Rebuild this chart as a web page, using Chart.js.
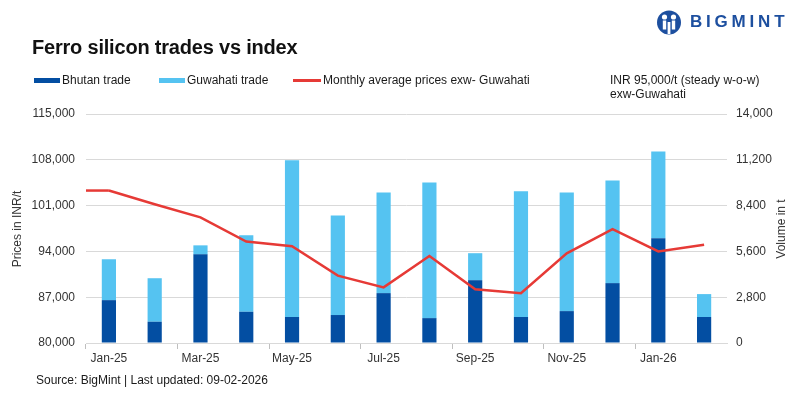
<!DOCTYPE html>
<html>
<head>
<meta charset="utf-8">
<script src="https://cdn.jsdelivr.net/npm/chart.js@4.4.1/dist/chart.umd.min.js"></script>
<style>
  html, body { margin: 0; padding: 0; background: #fff; }
  body { width: 800px; height: 398px; position: relative; overflow: hidden;
         font-family: "Liberation Sans", Arial, sans-serif; color: #1a1a1a; }
  #chartBox { position: absolute; left: 0; top: 0; width: 800px; height: 398px; }
  .title { position: absolute; left: 32px; top: 36px; font-size: 20px; font-weight: bold; color: #111; letter-spacing: -0.2px; }
  .txt { position: absolute; font-size: 12px; line-height: 14px; color: #1a1a1a; white-space: nowrap; }
  .swatch { position: absolute; }
  .axisTitle { position: absolute; font-size: 12px; color: #333; white-space: nowrap; transform: rotate(-90deg); transform-origin: center center; }
  .logo { position: absolute; left: 656px; top: 10px; }
  .logoText { position: absolute; left: 690px; top: 12px; font-size: 17px; font-weight: bold; letter-spacing: 3.8px; color: #1d4f9f; }
</style>
</head>
<body>
<div id="chartBox"><canvas id="trades"></canvas></div>

<div class="title">Ferro silicon trades vs index</div>

<svg class="logo" width="26" height="25" viewBox="0 0 26 25">
  <circle cx="13" cy="12.5" r="12" fill="#1d4f9f"/>
  <circle cx="8.5" cy="7" r="2.6" fill="#fff"/>
  <circle cx="17.5" cy="7" r="2.6" fill="#fff"/>
  <rect x="6.8" y="10.5" width="3.4" height="9" fill="#fff"/>
  <rect x="15.8" y="10.5" width="3.4" height="9" fill="#fff"/>
  <rect x="11.6" y="12" width="2.8" height="12" fill="#fff"/>
</svg>
<div class="logoText">BIGMINT</div>

<div class="swatch" style="left:34px;top:78px;width:26px;height:5px;background:#034ea2"></div>
<div class="txt" style="left:62px;top:73px">Bhutan trade</div>
<div class="swatch" style="left:159px;top:78px;width:26px;height:5px;background:#55c3f1"></div>
<div class="txt" style="left:187px;top:73px">Guwahati trade</div>
<div class="swatch" style="left:293px;top:79px;width:28px;height:2.5px;background:#e63a36"></div>
<div class="txt" style="left:323px;top:73px">Monthly average prices exw- Guwahati</div>
<div class="txt" style="left:610px;top:73px">INR 95,000/t (steady w-o-w)<br>exw-Guwahati</div>

<div class="axisTitle" style="left:-27px;top:222px;width:88px;text-align:center">Prices in INR/t</div>
<div class="axisTitle" style="left:745px;top:222px;width:72px;text-align:center">Volume in t</div>

<div class="txt" style="left:36px;top:373px">Source: BigMint | Last updated: 09-02-2026</div>

<script>
var months = ['Jan-25', 'Feb-25', 'Mar-25', 'Apr-25', 'May-25', 'Jun-25', 'Jul-25',
              'Aug-25', 'Sep-25', 'Oct-25', 'Nov-25', 'Dec-25', 'Jan-26', 'Feb-26'];

// volumes in t (right axis)
var bhutanTrade   = [2620, 1300, 5420, 1910, 1590, 1710, 3050, 1520, 3840, 1590, 1950, 3660, 6400, 1590];
var guwahatiTrade = [2500, 2660,  550, 4670, 9580, 6090, 6150, 8290, 1650, 7690, 7250, 6270, 5300, 1400];

// INR/t (left axis)
var avgPrice = [103300, 101200, 99200, 95500, 94800, 90300, 88500,
                93300, 88200, 87600, 93700, 97400, 94000, 95000];

var priceMin = 80000, priceMax = 115000, priceStep = 7000;
var volMin = 0, volMax = 14000, volStep = 2800;

var colors = {
  bhutan: '#034ea2',
  guwahati: '#55c3f1',
  price: '#e63a36',
  grid: '#d9d9d9',
  tick: '#333333'
};

function fmt(v) {
  return v.toLocaleString('en-US');
}

// excel draws the price line from the left edge of the plot
var leadIn = {
  id: 'leadIn',
  afterDatasetsDraw: function(chart) {
    var meta = chart.getDatasetMeta(0);
    if (!meta.data.length) return;
    var p = meta.data[0];
    var ctx = chart.ctx;
    ctx.save();
    ctx.strokeStyle = colors.price;
    ctx.lineWidth = 2.5;
    ctx.beginPath();
    ctx.moveTo(chart.chartArea.left, p.y);
    ctx.lineTo(p.x, p.y);
    ctx.stroke();
    ctx.restore();
  }
};

var config = {
  type: 'bar',
  data: {
    labels: months,
    datasets: [{
      type: 'line',
      label: 'Monthly average prices exw- Guwahati',
      data: avgPrice,
      yAxisID: 'yPrice',
      borderColor: colors.price,
      borderWidth: 2.5,
      pointRadius: 0,
      tension: 0,
      fill: false,
      order: 0
    }, {
      label: 'Bhutan trade',
      data: bhutanTrade,
      yAxisID: 'yVol',
      backgroundColor: colors.bhutan,
      barPercentage: 0.31,
      categoryPercentage: 1,
      order: 1
    }, {
      label: 'Guwahati trade',
      data: guwahatiTrade,
      yAxisID: 'yVol',
      backgroundColor: colors.guwahati,
      barPercentage: 0.31,
      categoryPercentage: 1,
      order: 1
    }]
  },
  options: {
    responsive: true,
    maintainAspectRatio: false,
    animation: false,
    layout: { padding: { top: 114, left: 0, right: 0, bottom: 0 } },
    plugins: {
      legend: { display: false },
      title: { display: false },
      tooltip: { enabled: false }
    },
    scales: {
      x: {
        stacked: true,
        offset: true,
        afterFit: function(scale) { scale.height = 55; },
        grid: {
          offset: true,
          drawOnChartArea: false,
          tickLength: 6,
          color: function(ctx) { return ctx.index % 2 === 0 ? '#bfbfbf' : 'rgba(0,0,0,0)'; }
        },
        border: { display: true, color: colors.grid },
        ticks: {
          autoSkip: false,
          maxRotation: 0,
          padding: 2,
          color: colors.tick,
          font: { size: 12, family: '"Liberation Sans", Arial, sans-serif' },
          callback: function(val, i) { return i % 2 === 0 ? months[i] : ''; }
        }
      },
      yPrice: {
        position: 'left',
        min: priceMin,
        max: priceMax,
        afterFit: function(scale) { scale.width = 86; },
        grid: { color: colors.grid, drawTicks: false },
        border: { display: false },
        ticks: {
          stepSize: priceStep,
          padding: 11,
          color: colors.tick,
          font: { size: 12, family: '"Liberation Sans", Arial, sans-serif' },
          callback: function(v) { return fmt(v); }
        }
      },
      yVol: {
        position: 'right',
        stacked: true,
        min: volMin,
        max: volMax,
        afterFit: function(scale) { scale.width = 73; },
        grid: { drawOnChartArea: false, drawTicks: false },
        border: { display: false },
        ticks: {
          stepSize: volStep,
          padding: 9,
          color: colors.tick,
          font: { size: 12, family: '"Liberation Sans", Arial, sans-serif' },
          callback: function(v) { return fmt(v); }
        }
      }
    }
  },
  plugins: [leadIn]
};

window.onload = function() {
  var ctx = document.getElementById('trades').getContext('2d');
  window.tradesChart = new Chart(ctx, config);
};
</script>
</body>
</html>
